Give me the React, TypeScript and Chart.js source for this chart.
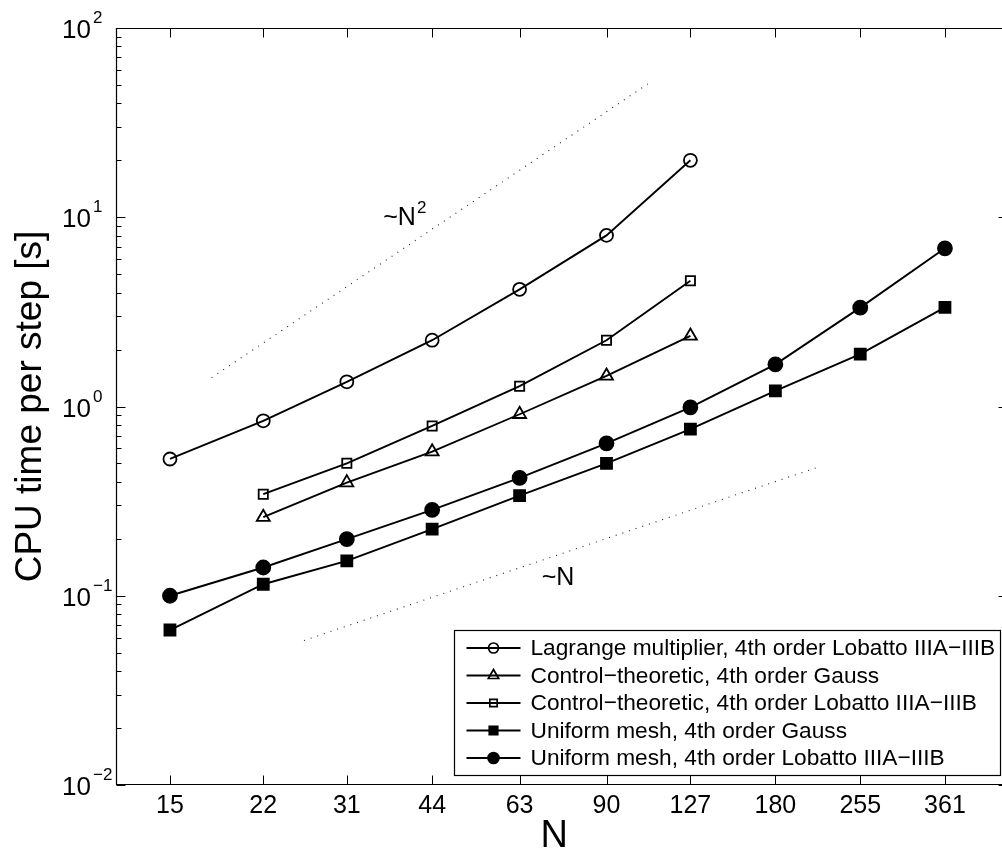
import React, { useEffect, useRef } from 'react';
import { Chart, registerables } from 'chart.js';
import { drawPoint } from 'chart.js/helpers';

Chart.register(...registerables);

// ---------- data ----------
const nValues = [15, 22, 31, 44, 63, 90, 127, 180, 255, 361];
const xTickLabels = ['15', '22', '31', '44', '63', '90', '127', '180', '255', '361'];

const lagrangeLobatto = [0.528, 0.84, 1.35, 2.24, 4.16, 8.02, 20.0, null, null, null];
const controlGauss = [null, 0.26, 0.396, 0.577, 0.91, 1.45, 2.36, null, null, null];
const controlLobatto = [null, 0.344, 0.501, 0.789, 1.28, 2.24, 4.62, null, null, null];
const uniformGauss = [0.0659, 0.115, 0.153, 0.225, 0.338, 0.501, 0.76, 1.21, 1.89, 3.34];
const uniformLobatto = [0.1, 0.141, 0.199, 0.284, 0.42, 0.639, 0.99, 1.67, 3.33, 6.85];

const seriesLabels = [
  'Lagrange multiplier, 4th order Lobatto IIIA\u2212IIIB',
  'Control\u2212theoretic, 4th order Gauss',
  'Control\u2212theoretic, 4th order Lobatto IIIA\u2212IIIB',
  'Uniform mesh, 4th order Gauss',
  'Uniform mesh, 4th order Lobatto IIIA\u2212IIIB',
];
const seriesValues = [lagrangeLobatto, controlGauss, controlLobatto, uniformGauss, uniformLobatto];

// reference slopes (dotted guides)
const slopeN2X = [17.8, 107];
const slopeN2Y = [1.42, 51];
const slopeNX = [26, 213];
const slopeNY = [0.058, 0.475];
const guideLabels = ['~N', '~N'];
const guideLabelSup = ['2', ''];
const guideLabelX = [36, 69];
const guideLabelY = [9.1, 0.114];

const yMajorTicks = [0.01, 0.1, 1, 10, 100];
const yTickExponents = ['\u22122', '\u22121', '0', '1', '2'];

// axis extent: x runs from 12 to ~468 (the right edge of the box lies just outside the picture)
const X_AXIS_MIN = 12.02;
const X_FRAME_MAX = 467.7;
const PX_PER_DECADE_X = 561;

// ---------- styles ----------
const FONT = "'Liberation Sans', Arial, Helvetica, sans-serif";
const seriesStyles = [
  { pointStyle: 'circle', radius: 6.5, legendRadius: 5, filled: false },
  { pointStyle: 'triangle', radius: 7.5, legendRadius: 6, filled: false },
  { pointStyle: 'rect', radius: 6.5, legendRadius: 5.2, filled: false },
  { pointStyle: 'rect', radius: 7.8, legendRadius: 6, filled: true },
  { pointStyle: 'circle', radius: 7, legendRadius: 5.5, filled: true },
];
const CANVAS_W = 1002;
const CANVAS_H = 859;

const toPoints = (xs: number[], ys: (number | null)[]) =>
  xs.map((x, i) => ({ x, y: ys[i] })).filter((p) => p.y !== null) as { x: number; y: number }[];

const decorPlugin = {
  id: 'decor',
  afterDraw(chart: any) {
    const { ctx, chartArea: a, scales } = chart;
    const xs = scales.x;
    const ys = scales.y;
    const left = Math.round(a.left) + 0.5;
    const top = Math.round(a.top) + 0.5;
    const bottom = Math.round(a.bottom) - 0.5;
    const right = Math.round(Math.max(a.right, xs.getPixelForValue(X_FRAME_MAX))) - 0.5;
    ctx.save();
    ctx.strokeStyle = '#000';
    ctx.lineWidth = 1.2;

    // frame
    ctx.beginPath();
    ctx.rect(left, top, right - left, bottom - top);
    ctx.stroke();

    // x ticks (bottom and top, inward)
    ctx.lineWidth = 1;
    ctx.beginPath();
    nValues.forEach((v) => {
      const px = Math.round(xs.getPixelForValue(v)) + 0.5;
      ctx.moveTo(px, bottom);
      ctx.lineTo(px, bottom - 9);
      ctx.moveTo(px, top);
      ctx.lineTo(px, top + 9);
    });
    // y ticks major + minor
    yMajorTicks.forEach((v, i) => {
      const py = Math.round(ys.getPixelForValue(v)) + 0.5;
      ctx.moveTo(left, py);
      ctx.lineTo(left + 9, py);
      ctx.moveTo(right, py);
      ctx.lineTo(right - 9, py);
      if (i < yMajorTicks.length - 1) {
        for (let m = 2; m <= 9; m++) {
          const pm = Math.round(ys.getPixelForValue(v * m)) + 0.5;
          ctx.moveTo(left, pm);
          ctx.lineTo(left + 5, pm);
          ctx.moveTo(right, pm);
          ctx.lineTo(right - 5, pm);
        }
      }
    });
    ctx.stroke();

    // y tick labels 10^k
    ctx.fillStyle = '#000';
    yMajorTicks.forEach((v, i) => {
      const py = ys.getPixelForValue(v);
      ctx.font = `26px ${FONT}`;
      ctx.textAlign = 'right';
      ctx.textBaseline = 'alphabetic';
      ctx.fillText('10', a.left - 25, py + 10);
      ctx.font = `17px ${FONT}`;
      ctx.textAlign = 'left';
      ctx.fillText(yTickExponents[i], a.left - 23, py - 5);
    });

    // guide labels
    guideLabels.forEach((t, i) => {
      const px = xs.getPixelForValue(guideLabelX[i]);
      const py = ys.getPixelForValue(guideLabelY[i]);
      ctx.font = `25px ${FONT}`;
      ctx.textAlign = 'left';
      ctx.textBaseline = 'alphabetic';
      ctx.fillText(t, px, py);
      if (guideLabelSup[i]) {
        const w = ctx.measureText(t).width;
        ctx.font = `17px ${FONT}`;
        ctx.fillText(guideLabelSup[i], px + w + 1, py - 12);
      }
    });

    // legend
    const boxRight = right - 8;
    const boxBottom = a.bottom - 10;
    const boxW = 546;
    const boxH = 145;
    const bx = Math.round(boxRight - boxW) + 0.5;
    const by = Math.round(boxBottom - boxH) + 0.5;
    ctx.fillStyle = '#fff';
    ctx.fillRect(bx, by, boxW, boxH);
    ctx.strokeStyle = '#000';
    ctx.lineWidth = 1.2;
    ctx.strokeRect(bx, by, boxW, boxH);
    seriesLabels.forEach((label, i) => {
      const st = seriesStyles[i];
      const ry = by + 17.5 + i * 27.5;
      ctx.strokeStyle = '#000';
      ctx.lineWidth = 1.8;
      ctx.beginPath();
      ctx.moveTo(bx + 12, ry);
      ctx.lineTo(bx + 66, ry);
      ctx.stroke();
      ctx.fillStyle = st.filled ? '#000' : 'rgba(0,0,0,0)';
      ctx.lineWidth = 1.7;
      drawPoint(ctx, { pointStyle: st.pointStyle, radius: st.legendRadius, rotation: 0, borderWidth: 1.7 } as any, bx + 39, ry);
      ctx.fillStyle = '#000';
      ctx.font = `22.7px ${FONT}`;
      ctx.textAlign = 'left';
      ctx.textBaseline = 'middle';
      ctx.fillText(label, bx + 76, ry + 1);
    });
    ctx.restore();
  },
};

export default function App() {
  const ref = useRef<HTMLCanvasElement>(null);
  useEffect(() => {
    document.body.style.margin = '0';
    document.body.style.overflow = 'hidden';
    const datasets: any[] = seriesValues.map((vals, i) => {
      const st = seriesStyles[i];
      return {
        label: seriesLabels[i],
        data: toPoints(nValues, vals),
        borderColor: '#000',
        borderWidth: 1.9,
        pointStyle: st.pointStyle,
        pointRadius: st.radius,
        pointBorderWidth: 1.8,
        pointBorderColor: '#000',
        pointBackgroundColor: st.filled ? '#000' : 'rgba(0,0,0,0)',
        fill: false,
        tension: 0,
      };
    });
    datasets.push({
      label: 'N2 guide',
      data: toPoints(slopeN2X, slopeN2Y),
      borderColor: '#222',
      borderWidth: 1.1,
      borderDash: [1, 6],
      pointRadius: 0,
      fill: false,
    });
    datasets.push({
      label: 'N guide',
      data: toPoints(slopeNX, slopeNY),
      borderColor: '#222',
      borderWidth: 1.1,
      borderDash: [1, 6],
      pointRadius: 0,
      fill: false,
    });

    const chart = new Chart(ref.current as HTMLCanvasElement, {
      type: 'line',
      data: { datasets },
      options: {
        animation: false,
        responsive: false,
        devicePixelRatio: 1,
        events: [],
        layout: { padding: { top: 28, right: 0, left: 0, bottom: 0 } },
        font: { family: FONT },
        plugins: { legend: { display: false }, tooltip: { enabled: false } },
        scales: {
          x: {
            type: 'logarithmic',
            bounds: 'data',
            min: X_AXIS_MIN,
            max: X_FRAME_MAX,
            afterDataLimits: (s: any) => {
              const w = s.width || s.maxWidth || 886;
              s.min = X_AXIS_MIN;
              s.max = Math.pow(10, Math.log10(X_AXIS_MIN) + w / PX_PER_DECADE_X);
            },
            afterBuildTicks: (s: any) => {
              s.ticks = nValues.map((v) => ({ value: v }));
            },
            afterFit: (s: any) => {
              s.height = 74;
              s.paddingLeft = 0;
              s.paddingRight = 0;
              s.paddingTop = 0;
              s.paddingBottom = 0;
            },
            ticks: {
              callback: (v: any) => xTickLabels[nValues.indexOf(Number(v))] ?? '',
              autoSkip: false,
              maxRotation: 0,
              minRotation: 0,
              padding: 6,
              color: '#000',
              font: { size: 25, family: FONT },
            },
            grid: { display: false, drawTicks: false },
            border: { display: false },
            title: {
              display: true,
              text: 'N',
              color: '#000',
              font: { size: 38, family: FONT },
              padding: { top: 0, bottom: 0 },
            },
          },
          y: {
            type: 'logarithmic',
            min: 0.01,
            max: 100,
            afterBuildTicks: (s: any) => {
              s.ticks = yMajorTicks.map((v) => ({ value: v }));
            },
            afterFit: (s: any) => {
              s.width = 116;
              s.paddingLeft = 0;
              s.paddingRight = 0;
              s.paddingTop = 0;
              s.paddingBottom = 0;
            },
            ticks: { display: false },
            grid: { display: false, drawTicks: false },
            border: { display: false },
            title: {
              display: true,
              text: 'CPU time per step [s]',
              color: '#000',
              font: { size: 37, family: FONT },
              padding: { top: 9, bottom: 0 },
            },
          },
        },
      } as any,
      plugins: [decorPlugin],
    });
    return () => chart.destroy();
  }, []);

  return (
    <div style={{ width: CANVAS_W, height: CANVAS_H, overflow: 'hidden', position: 'relative', background: '#fff' }}>
      <canvas ref={ref} width={CANVAS_W} height={CANVAS_H} style={{ display: 'block', width: CANVAS_W, height: CANVAS_H }} />
    </div>
  );
}
